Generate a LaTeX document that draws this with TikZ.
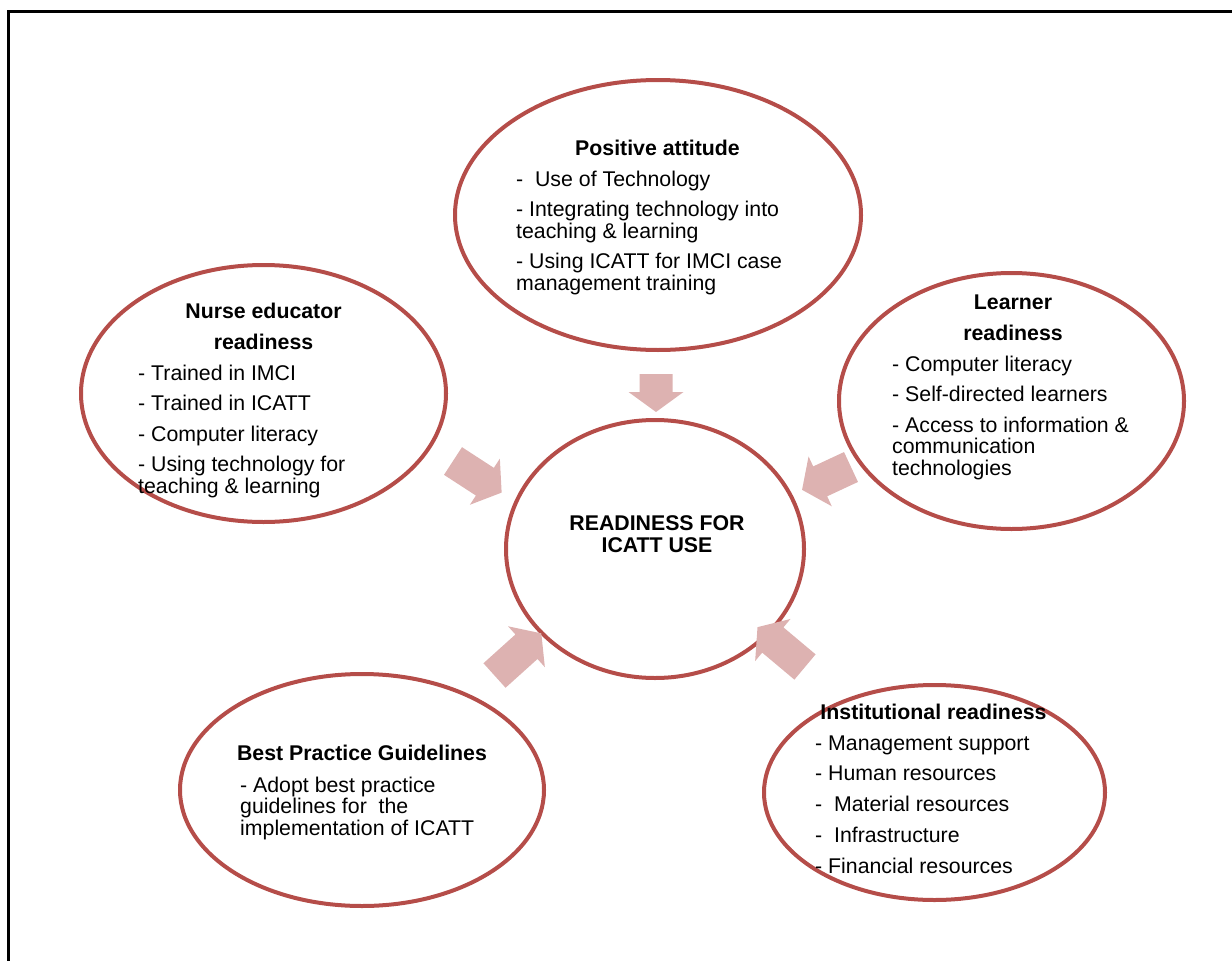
\documentclass[tikz,border=0pt]{standalone}
\usepackage{fontspec}
\setmainfont{Liberation Sans}
\usetikzlibrary{shapes.geometric}

\definecolor{ringred}{RGB}{181,77,73}
\definecolor{arrowpink}{RGB}{221,178,177}
\newcommand{\ringfont}{\fontsize{21.3}{21.5}\selectfont}

\tikzset{
  ring/.style={ellipse, draw=ringred, line width=4pt, inner sep=0pt},
  head/.style={font=\ringfont\bfseries, align=center, anchor=base, inner sep=0pt},
  items/.style={font=\ringfont, align=left, anchor=base west, inner sep=0pt},
  pics/blockarrow/.style={code={
    \fill[arrowpink] (0,-16.5) -- (#1-20,-16.5) -- (#1-20,-27.5) -- (#1,0)
      -- (#1-20,27.5) -- (#1-20,16.5) -- (0,16.5) -- cycle;
  }}
}

\begin{document}
\begin{tikzpicture}[x=1pt, y=-1pt]

  \useasboundingbox (0,0) rectangle (1232,961);
  \draw[line width=3pt] (8.5,975) -- (8.5,11.5) -- (1245,11.5);

  % the six rings
  \node[ring, minimum width=406pt, minimum height=270pt] (attitude) at (658,215) {};
  \node[ring, minimum width=365pt, minimum height=257pt] (nurse) at (263.5,393.5) {};
  \node[ring, minimum width=345pt, minimum height=256pt] (learner) at (1011.5,401) {};
  \node[ring, minimum width=298pt, minimum height=258pt] (core) at (655,549) {};
  \node[ring, minimum width=364pt, minimum height=232pt] (practice) at (362,790) {};
  \node[ring, minimum width=341pt, minimum height=215pt] (institution) at (934.5,792.5) {};

  % block arrows pointing at the middle ring
  \pic[rotate=-90] (attitudearrow) at (656,374) {blockarrow=38};
  \pic[rotate=-33] (nursearrow) at (453,461) {blockarrow=58};
  \pic[rotate=-155] (learnerarrow) at (851,467) {blockarrow=54};
  \pic[rotate=42] (practicearrow) at (494.5,675.5) {blockarrow=63};
  \pic[rotate=140] (institutionarrow) at (805,667) {blockarrow=62};

  % texts (base = baseline of the last line)
  \node[head] (corehead) at (657,552) {READINESS FOR\\ICATT USE};

  \node[head] (attitudehead) at (657.5,155) {Positive attitude};
  \node[items] (attitudelist) at (516,290) {-\ \ Use of Technology\\[9pt]
    - Integrating technology into\\teaching \& learning\\[9pt]
    - Using ICATT for IMCI case\\management training};

  \node[head] (nursehead) at (263.5,349) {Nurse educator\\[9.5pt]readiness};
  \node[items] (nurselist) at (138,493) {- Trained in IMCI\\[9pt]
    - Trained in ICATT\\[9pt]
    - Computer literacy\\[9pt]
    - Using technology for\\teaching \& learning};

  \node[head] (learnerhead) at (1013,340) {Learner\\[9.5pt]readiness};
  \node[items] (learnerlist) at (892,475) {- Computer literacy\\[9pt]
    - Self-directed learners\\[9pt]
    - Access to information \&\\communication\\technologies};

  \node[head] (institutionhead) at (933.5,719) {Institutional readiness};
  \node[items] (institutionlist) at (815,873) {- Management support\\[9.25pt]
    - Human resources\\[9.25pt]
    -\ \ Material resources\\[9.25pt]
    -\ \ Infrastructure\\[9.25pt]
    - Financial resources};

  \node[head] (practicehead) at (362,760) {Best Practice Guidelines};
  \node[items] (practicelist) at (240,835) {- Adopt best practice\\
    guidelines for\ \ the\\implementation of ICATT};

\end{tikzpicture}
\end{document}
